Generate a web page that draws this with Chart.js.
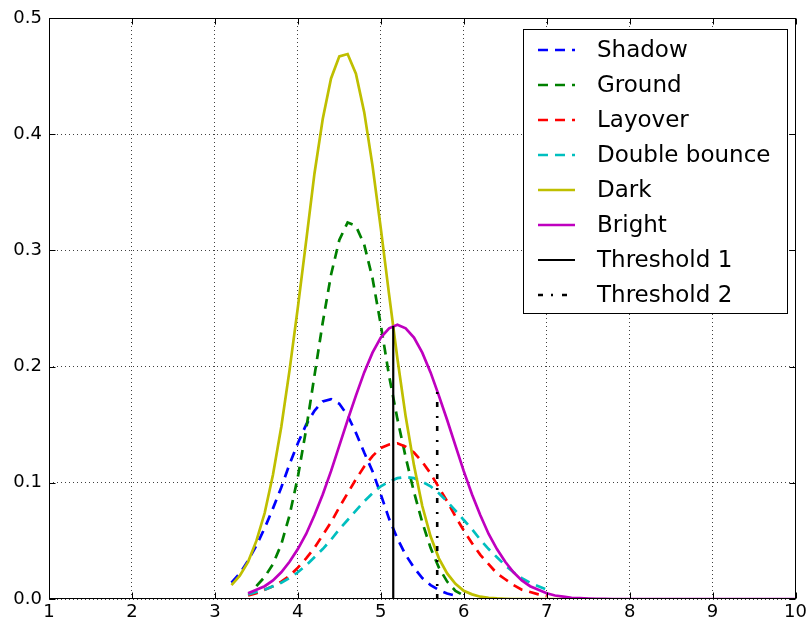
<!DOCTYPE html>
<html>
<head>
<meta charset="utf-8">
<script src="https://cdn.jsdelivr.net/npm/chart.js@4.4.0/dist/chart.umd.min.js"></script>
<style>
  body { margin: 0; background: #fff; }
</style>
</head>
<body>
<canvas id="myChart" width="810" height="623"></canvas>
<script>
// x positions shared by all curves
var xValues = [3.2,3.3,3.4,3.5,3.6,3.7,3.8,3.9,4.0,4.1,4.2,4.3,4.4,4.5,4.6,4.7,4.8,4.9,5.0,5.1,
               5.2,5.3,5.4,5.5,5.6,5.7,5.8,5.9,6.0,6.1,6.2,6.3,6.4,6.5,6.6,6.7,6.8,6.9,7.0,7.1,
               7.2,7.3,7.4,7.5,7.6,7.7,7.8,7.9,8.0,8.5,9.0,9.5,10.0]

// values (null = curve not drawn there)
var shadowValues = [0.014,0.022,0.033,0.046,0.061,0.078,0.096,0.116,0.134,0.150,0.162,0.170,0.172,0.168,0.158,0.143,0.126,0.110,0.090,0.069,
                    0.052,0.038,0.027,0.018,0.012,0.0077,0.0047,0.0028]
var groundValues = [null,null,null,0.011,0.019,0.030,0.047,0.072,0.105,0.146,0.192,0.238,0.279,0.309,0.324,0.321,0.305,0.276,0.236,0.192,
                    0.155,0.122,0.092,0.066,0.044,0.027,0.015,0.007,0.003]
var layoverValues = [null,null,0.003,0.005,0.008,0.011,0.015,0.020,0.027,0.035,0.044,0.055,0.066,0.079,0.091,0.103,0.114,0.123,0.130,0.133,
                     0.134,0.131,0.126,0.118,0.108,0.096,0.084,0.071,0.059,0.048,0.038,0.030,0.022,0.017,0.012,0.008,0.006,0.004,0.0025]
var doubleBounceValues = [null,null,0.004,0.006,0.008,0.011,0.014,0.018,0.023,0.029,0.036,0.043,0.051,0.060,0.068,0.076,0.084,0.091,0.097,0.101,
                          0.104,0.105,0.104,0.101,0.097,0.091,0.084,0.076,0.068,0.060,0.051,0.043,0.036,0.029,0.023,0.018,0.014,0.011,0.008]
var darkValues = [0.012,0.020,0.032,0.050,0.074,0.107,0.148,0.197,0.251,0.308,0.366,0.413,0.448,0.467,0.469,0.452,0.419,0.373,0.319,0.262,
                  0.207,0.157,0.115,0.080,0.054,0.035,0.022,0.013,0.007,0.004,0.002,0.001,0.0005,0.0002,0,0,0,0,0,0,
                  0,0,0,0]
var brightValues = [null,null,0.005,0.008,0.011,0.016,0.023,0.032,0.043,0.056,0.072,0.090,0.110,0.132,0.154,0.175,0.195,0.212,0.225,0.233,
                    0.236,0.233,0.225,0.212,0.195,0.175,0.154,0.132,0.110,0.090,0.072,0.056,0.043,0.032,0.023,0.016,0.011,0.008,0.005,0.003,
                    0.002,0.001,0.0007,0.0004,0.0002,0.0001,0,0,0,0,0,0,0]

// vertical threshold lines: position and top
var thresholdX = [5.15, 5.68]
var thresholdTop = [0.235, 0.185]

var seriesLabels = ['Shadow','Ground','Layover','Double bounce','Dark','Bright','Threshold 1','Threshold 2']
var seriesColors = ['#0000ff','#008000','#ff0000','#00bfbf','#bfbf00','#bf00bf','#000000','#000000']

var xTicks = [1,2,3,4,5,6,7,8,9,10]
var yTicks = [0.0,0.1,0.2,0.3,0.4,0.5]

function toPoints(values) {
    var pts = []
    values.forEach(function(v, i) {
        if (v !== null && v !== undefined) pts.push({x: xValues[i], y: v})
    })
    return pts
}

function vertical(i) {
    return [{x: thresholdX[i], y: 0}, {x: thresholdX[i], y: thresholdTop[i]}]
}

function curve(i, data, dash, width) {
    return {
        label: seriesLabels[i],
        data: data,
        borderColor: seriesColors[i],
        backgroundColor: seriesColors[i],
        borderWidth: width,
        borderDash: dash,
        pointRadius: 0,
        tension: 0,
        fill: false,
        order: 8 - i   // matplotlib draws later series on top
    }
}

Chart.defaults.font.family = 'DejaVu Sans'
Chart.defaults.color = '#000'

// frame, inward ticks and the legend box
var framePlugin = {
    id: 'frame',
    afterDraw: function(chart) {
        var ctx = chart.ctx
        var a = chart.chartArea
        var x = chart.scales.x
        var y = chart.scales.y
        ctx.save()
        ctx.setLineDash([])
        ctx.strokeStyle = '#000'
        ctx.lineWidth = 1
        var L = Math.round(a.left) + 0.5, R = Math.round(a.right) - 0.5
        var T = Math.round(a.top) + 0.5, B = Math.round(a.bottom) - 0.5
        ctx.strokeRect(L, T, R - L, B - T)
        ctx.beginPath()
        xTicks.forEach(function(v) {
            var px = Math.round(x.getPixelForValue(v)) + 0.5
            ctx.moveTo(px, T); ctx.lineTo(px, T + 6)
            ctx.moveTo(px, B); ctx.lineTo(px, B - 6)
        })
        yTicks.forEach(function(v) {
            var py = Math.round(y.getPixelForValue(v)) + 0.5
            ctx.moveTo(L, py); ctx.lineTo(L + 6, py)
            ctx.moveTo(R, py); ctx.lineTo(R - 6, py)
        })
        ctx.stroke()

        // legend
        ctx.fillStyle = '#fff'
        ctx.fillRect(523, 29, 264, 284)
        ctx.strokeRect(523.5, 29.5, 264, 284)
        ctx.font = '23px "DejaVu Sans"'
        ctx.textBaseline = 'middle'
        ctx.textAlign = 'left'
        chart.data.datasets.forEach(function(ds, i) {
            var cy = 50 + i * 35
            ctx.save()
            ctx.setLineDash(ds.borderDash || [])
            ctx.strokeStyle = ds.borderColor
            ctx.lineWidth = ds.borderWidth
            ctx.beginPath()
            ctx.moveTo(538, cy)
            ctx.lineTo(575, cy)
            ctx.stroke()
            ctx.restore()
            ctx.fillStyle = '#000'
            ctx.fillText(ds.label, 597, cy + 1)
        })
        ctx.restore()
    }
}

var chart = new Chart('myChart', {
    type: 'line',
    data: {
        datasets: [
            curve(0, toPoints(shadowValues), [10, 7], 2.7),
            curve(1, toPoints(groundValues), [10, 7], 2.7),
            curve(2, toPoints(layoverValues), [10, 7], 2.7),
            curve(3, toPoints(doubleBounceValues), [10, 7], 2.7),
            curve(4, toPoints(darkValues), [], 2.7),
            curve(5, toPoints(brightValues), [], 2.7),
            curve(6, vertical(0), [], 2.2),
            curve(7, vertical(1), [5, 8, 2, 9], 2.6)
        ]
    },
    options: {
        responsive: false,
        animation: false,
        layout: { padding: { top: 18, right: 11, left: 0, bottom: 0 } },
        scales: {
            x: {
                type: 'linear',
                min: 1,
                max: 10,
                afterFit: function(s) { s.height = 24 },
                afterBuildTicks: function(s) { s.ticks = xTicks.map(function(v) { return {value: v} }) },
                ticks: { font: { size: 18 }, padding: 3, color: '#000', maxRotation: 0 },
                grid: { color: 'rgba(0,0,0,0.75)', lineWidth: 1, drawTicks: false },
                border: { display: false, dash: [1, 3] }
            },
            y: {
                min: 0,
                max: 0.5,
                afterFit: function(s) { s.width = 49 },
                afterBuildTicks: function(s) { s.ticks = yTicks.map(function(v) { return {value: v} }) },
                ticks: {
                    font: { size: 18 },
                    padding: 7,
                    color: '#000',
                    callback: function(v) { return Number(v).toFixed(1) }
                },
                grid: { color: 'rgba(0,0,0,0.75)', lineWidth: 1, drawTicks: false },
                border: { display: false, dash: [1, 3] }
            }
        },
        plugins: {
            legend: { display: false },
            tooltip: { enabled: false }
        }
    },
    plugins: [framePlugin]
});
</script>
</body>
</html>
